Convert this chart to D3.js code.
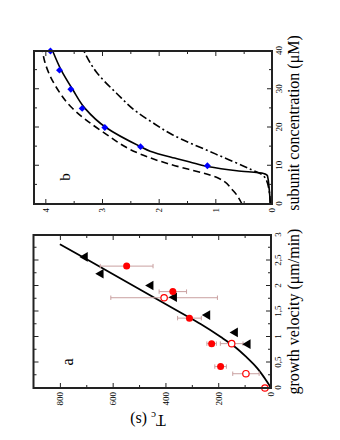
<!DOCTYPE html>
<html><head><meta charset="utf-8">
<script src="https://cdn.jsdelivr.net/npm/d3@7"></script>
<style>
body{margin:0;background:#fff}
svg{display:block}
text{font-family:"Liberation Serif","Times New Roman",serif;fill:#000}
</style>
</head><body>
<svg id="chart" width="340" height="440"></svg>
<script>
// ---------- Panel a data ----------
const velocityTicks = [0, 0.5, 1, 1.5, 2, 2.5, 3];
const velocityTickLabels = ["0", "0,5", "1", "1,5", "2", "2,5", "3"];
const velocityMinor = [0.25, 0.75, 1.25, 1.75, 2.25, 2.75];
const tcTicks = [0, 200, 400, 600, 800];
const tcTickLabels = ["0", "200", "400", "600", "800"];
const tcMinor = [100, 300, 500, 700];

const fitVelocity = [0, 0.2, 0.4, 0.6, 0.8, 1.0, 1.25, 1.5, 2.0, 2.5, 2.82];
const fitTc       = [0, 25, 54, 92, 135, 190, 265, 350, 520, 690, 800];

const filledVelocity = [2.39, 1.89, 1.37, 0.87, 0.42];
const filledTc       = [547, 372, 309, 225, 191];
const filledErr      = [100, 52, 45, 18, 22];

const openVelocity = [1.77, 0.87, 0.28, 0.0];
const openTc       = [405, 149, 95, 23];
const openErr      = [202, 43, 50, 0];

const triVelocity = [2.57, 2.24, 2.01, 1.78, 1.43, 1.09, 0.86];
const triTc       = [705, 645, 456, 367, 241, 136, 88];

// ---------- Panel b data ----------
const concTicks = [0, 10, 20, 30, 40];
const concTickLabels = ["0", "10", "20", "30", "40"];
const concMinor = [5, 15, 25, 35];
const valTicks = [0, 1, 2, 3, 4];
const valTickLabels = ["0", "1", "2", "3", "4"];
const valMinor = [0.5, 1.5, 2.5, 3.5];

const diamondConc = [40, 35, 30, 25, 20, 15, 10];
const diamondVal  = [3.91, 3.75, 3.55, 3.35, 2.95, 2.32, 1.14];

const solidConc = [0, 4, 7.4, 8, 8.7, 9.8, 11, 12, 13.8, 15, 20, 25, 30, 35, 40];
const solidVal  = [0.03, 0.05, 0.08, 0.15, 0.62, 1.14, 1.45, 1.72, 2.15, 2.32, 2.93, 3.3, 3.52, 3.72, 3.87];

const dashedConc = [0, 3.4, 6.9, 10.4, 11.3, 13.1, 18.8, 25.3, 30.6, 37.2, 40];
const dashedVal  = [0.53, 0.68, 0.97, 1.8, 2.0, 2.33, 2.98, 3.54, 3.81, 4.01, 4.05];

const dashDotConc = [0, 4.3, 7.4, 9.1, 13.1, 18.3, 21.4, 24, 28.9, 34.5, 40];
const dashDotVal  = [0.03, 0.06, 0.15, 0.38, 1.0, 1.78, 2.12, 2.38, 2.74, 3.1, 3.32];

// ---------- drawing ----------
const svg = d3.select("#chart");
// whole figure is drawn upright and rotated a quarter turn counter-clockwise
const root = svg.append("g").attr("transform", "translate(0,440) rotate(-90)");

const FRAME = "#222";
const ERR = "#c9a0a0";

function drawAxes(g, x, y, o) {
  const [x0, x1] = x.range();
  const [yb, yt] = y.range();
  const styleAxis = sel => {
    sel.select(".domain").remove();
    sel.selectAll(".tick line").attr("stroke", FRAME).attr("stroke-width", 1);
    sel.selectAll(".tick text").style("font-size", "9px").attr("fill", "#111");
  };
  // bottom, major with labels
  g.append("g").attr("transform", `translate(0,${yb})`)
    .call(d3.axisBottom(x).tickValues(o.xTicks).tickFormat((d, i) => o.xLabels[i])
      .tickSizeInner(-5).tickSizeOuter(0).tickPadding(4)).call(styleAxis);
  g.append("g").attr("transform", `translate(0,${yb})`)
    .call(d3.axisBottom(x).tickValues(o.xMinor).tickFormat("").tickSizeInner(-3).tickSizeOuter(0)).call(styleAxis);
  // top mirror
  g.append("g").attr("transform", `translate(0,${yt})`)
    .call(d3.axisTop(x).tickValues(o.xTicks).tickFormat("").tickSizeInner(-5).tickSizeOuter(0)).call(styleAxis);
  g.append("g").attr("transform", `translate(0,${yt})`)
    .call(d3.axisTop(x).tickValues(o.xMinor).tickFormat("").tickSizeInner(-3).tickSizeOuter(0)).call(styleAxis);
  // left with labels
  g.append("g").attr("transform", `translate(${x0},0)`)
    .call(d3.axisLeft(y).tickValues(o.yTicks).tickFormat((d, i) => o.yLabels[i])
      .tickSizeInner(-5).tickSizeOuter(0).tickPadding(4)).call(styleAxis);
  g.append("g").attr("transform", `translate(${x0},0)`)
    .call(d3.axisLeft(y).tickValues(o.yMinor).tickFormat("").tickSizeInner(-3).tickSizeOuter(0)).call(styleAxis);
  // right mirror
  g.append("g").attr("transform", `translate(${x1},0)`)
    .call(d3.axisRight(y).tickValues(o.yTicks).tickFormat("").tickSizeInner(-5).tickSizeOuter(0)).call(styleAxis);
  g.append("g").attr("transform", `translate(${x1},0)`)
    .call(d3.axisRight(y).tickValues(o.yMinor).tickFormat("").tickSizeInner(-3).tickSizeOuter(0)).call(styleAxis);
  // frame
  g.append("rect").attr("x", x0).attr("y", yt).attr("width", x1 - x0).attr("height", yb - yt)
    .attr("fill", "none").attr("stroke", FRAME).attr("stroke-width", 2);
}

// ===== Panel a =====
const ga = root.append("g");
const xA = d3.scaleLinear().domain([0, 3]).range([52, 205]);
const yA = d3.scaleLinear().domain([0, 900]).range([271, 33.5]);

const fitLine = d3.line().x(d => xA(d[0])).y(d => yA(d[1])).curve(d3.curveMonotoneX);
ga.append("path").datum(fitVelocity.map((v, i) => [v, fitTc[i]]))
  .attr("d", fitLine).attr("fill", "none").attr("stroke", "#000").attr("stroke-width", 1.8);

function errBars(data) {
  const eg = ga.append("g").attr("stroke", ERR).attr("stroke-width", 1).attr("fill", "none");
  data.filter(d => d.e > 0).forEach(d => {
    const cx = xA(d.v), y1 = yA(d.t - d.e), y2 = yA(d.t + d.e);
    eg.append("line").attr("x1", cx).attr("x2", cx).attr("y1", y1).attr("y2", y2);
    eg.append("line").attr("x1", cx - 2.2).attr("x2", cx + 2.2).attr("y1", y1).attr("y2", y1);
    eg.append("line").attr("x1", cx - 2.2).attr("x2", cx + 2.2).attr("y1", y2).attr("y2", y2);
  });
}
const filled = filledVelocity.map((v, i) => ({v, t: filledTc[i], e: filledErr[i]}));
const open = openVelocity.map((v, i) => ({v, t: openTc[i], e: openErr[i]}));
errBars(filled);
errBars(open);

ga.append("g").selectAll("path").data(triVelocity.map((v, i) => [v, triTc[i]])).join("path")
  .attr("transform", d => `translate(${xA(d[0])},${yA(d[1])})`)
  .attr("d", d3.symbol(d3.symbolTriangle, 40)).attr("fill", "#000");

ga.append("g").selectAll("circle").data(filled).join("circle")
  .attr("cx", d => xA(d.v)).attr("cy", d => yA(d.t)).attr("r", 3.5).attr("fill", "#ff0000");
ga.append("g").selectAll("circle").data(open).join("circle")
  .attr("cx", d => xA(d.v)).attr("cy", d => yA(d.t)).attr("r", 3.2)
  .attr("fill", "#fff").attr("stroke", "#ff0000").attr("stroke-width", 1.2);

drawAxes(ga, xA, yA, {xTicks: velocityTicks, xLabels: velocityTickLabels, xMinor: velocityMinor,
  yTicks: tcTicks, yLabels: tcTickLabels, yMinor: tcMinor});

ga.append("text").attr("x", 128.5).attr("y", 299).attr("text-anchor", "middle")
  .style("font-size", "16px").text("growth velocity (μm/min)");
const tcLab = ga.append("text").attr("transform", "translate(25,148) rotate(-90)")
  .attr("text-anchor", "middle").style("font-size", "16px");
tcLab.append("tspan").text("T");
tcLab.append("tspan").attr("dy", 3).style("font-size", "11px").text("c");
tcLab.append("tspan").attr("dy", -3).text(" (s)");
ga.append("text").attr("x", 78).attr("y", 72.5).attr("text-anchor", "middle")
  .style("font-size", "16px").text("a");

// ===== Panel b =====
const gb = root.append("g");
const xB = d3.scaleLinear().domain([0, 40]).range([236, 389]);
const yB = d3.scaleLinear().domain([0, 4.2]).range([272, 34]);
const lineB = d3.line().x(d => xB(d[0])).y(d => yB(d[1])).curve(d3.curveMonotoneX);

gb.append("path").datum(dashDotConc.map((c, i) => [c, dashDotVal[i]])).attr("d", lineB)
  .attr("fill", "none").attr("stroke", "#000").attr("stroke-width", 1.6).attr("stroke-dasharray", "8,3,2,3");
gb.append("path").datum(dashedConc.map((c, i) => [c, dashedVal[i]])).attr("d", lineB)
  .attr("fill", "none").attr("stroke", "#000").attr("stroke-width", 1.6).attr("stroke-dasharray", "7,4");
gb.append("path").datum(solidConc.map((c, i) => [c, solidVal[i]])).attr("d", lineB)
  .attr("fill", "none").attr("stroke", "#000").attr("stroke-width", 1.6);

gb.append("g").selectAll("path").data(diamondConc.map((c, i) => [c, diamondVal[i]])).join("path")
  .attr("transform", d => `translate(${xB(d[0])},${yB(d[1])}) rotate(45)`)
  .attr("d", d3.symbol(d3.symbolSquare, 24)).attr("fill", "#0000ff");

drawAxes(gb, xB, yB, {xTicks: concTicks, xLabels: concTickLabels, xMinor: concMinor,
  yTicks: valTicks, yLabels: valTickLabels, yMinor: valMinor});

gb.append("text").attr("x", 317).attr("y", 299).attr("text-anchor", "middle")
  .style("font-size", "16px").text("subunit concentration (μM)");
gb.append("text").attr("x", 263).attr("y", 70).attr("text-anchor", "middle")
  .style("font-size", "15px").text("b");
</script>
</body></html>
